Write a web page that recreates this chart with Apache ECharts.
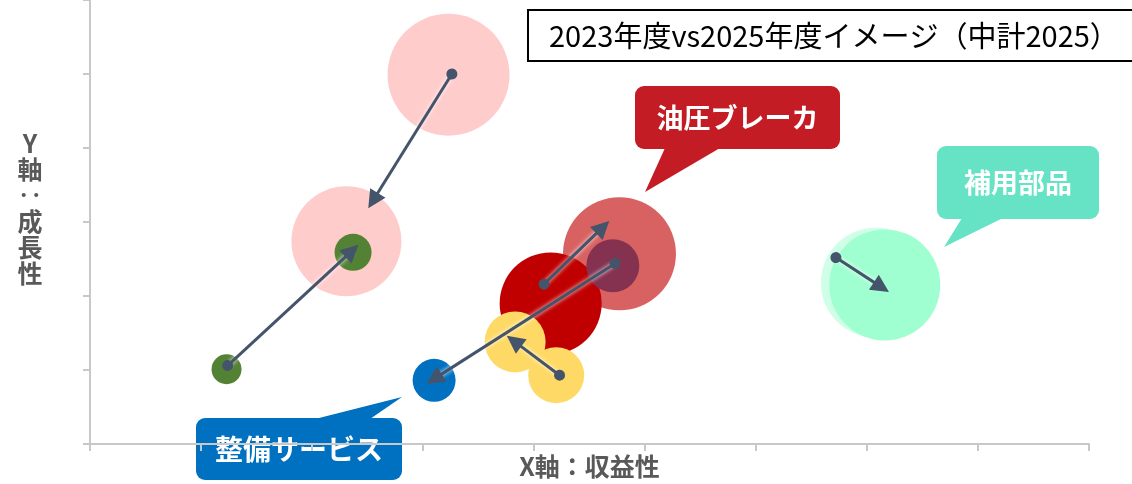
<!DOCTYPE html>
<html>
<head>
<meta charset="utf-8">
<script src="https://cdn.jsdelivr.net/npm/echarts@6.0.0/dist/echarts.min.js"></script>
<style>
  html, body { margin: 0; padding: 0; background: #fff; }
  #chart { width: 1132px; height: 484px; }
</style>
</head>
<body>
<div id="chart"></div>
<script>
// バブル（2023年度 / 2025年度）
const bubbleNames = ['P-2023', 'P-2025', 'G-2025', 'G-2023', '整備サービス2025', '油圧ブレーカ2023',
  '油圧ブレーカ2025', '整備サービス2023', 'Y-2025', 'Y-2023', '補用部品2023', '補用部品2025'];
const bubbleX = [3.23, 2.31, 2.37, 1.23, 3.10, 4.15, 4.77, 4.71, 3.83, 4.20, 7.08, 7.16];
const bubbleY = [4.99, 2.74, 2.59, 1.01, 0.86, 1.90, 2.57, 2.41, 1.38, 0.93, 2.18, 2.15];
const bubbleSize = [12.2, 11.0, 3.7, 3.0, 4.3, 10.2, 11.3, 5.3, 6.1, 5.6, 11.0, 11.1];

// 矢印（2023 → 2025）
const arrowFrom = [[3.26, 5.00], [1.24, 1.06], [4.09, 2.16], [4.73, 2.44], [4.23, 0.93], [6.72, 2.52]];
const arrowTo = [[2.55, 3.29], [2.36, 2.61], [4.62, 2.93], [3.10, 0.88], [3.82, 1.39], [7.13, 2.12]];

const titleText = '2023年度vs2025年度イメージ（中計2025）';
const xName = 'X軸：収益性';
const yName = 'Y\n軸\n‥\n成\n長\n性\n\u3000';

const bubbleColors = ['#ffcccc', '#ffcccc', '#548235', '#548235', '#0070c0', '#c00000',
  'rgba(192,0,0,0.62)', '#843250', '#ffd966', '#ffd966', 'rgba(160,255,208,0.5)', '#a0ffd0'];

const FONT = '"Noto Sans CJK JP", "Noto Sans", sans-serif';

const myChart = echarts.init(document.getElementById('chart'));

// 吹き出し
const callout = (box, tail, text, color, fontSize) => ({
    type: 'group',
    children: [
        { type: 'polygon', shape: { points: tail }, style: { fill: color } },
        {
            type: 'rect',
            shape: { x: box[0], y: box[1], width: box[2], height: box[3], r: 9 },
            style: { fill: color }
        },
        {
            type: 'text',
            x: box[0] + box[2] / 2,
            y: box[1] + box[3] / 2,
            style: {
                text: text,
                fill: '#fff',
                font: 'bold ' + fontSize + 'px ' + FONT,
                align: 'center',
                verticalAlign: 'middle'
            }
        }
    ]
});

const option = {
    animation: false,
    title: {
        text: titleText,
        left: 528,
        top: 10,
        borderColor: '#000',
        borderWidth: 2,
        padding: [10, 19, 10, 21],
        textStyle: {
            fontFamily: FONT,
            fontWeight: 'normal',
            fontSize: 29,
            lineHeight: 31,
            color: '#000'
        }
    },
    grid: {
        left: 90,
        right: 43,
        top: -4,
        bottom: 37
    },
    xAxis: {
        type: 'value',
        min: 0,
        max: 9,
        interval: 1,
        name: xName,
        nameLocation: 'middle',
        nameGap: 10,
        nameTextStyle: {
            fontFamily: FONT,
            fontWeight: 'bold',
            fontSize: 25,
            color: '#595959'
        },
        axisLine: { lineStyle: { color: '#c8c8c8', width: 2 } },
        axisTick: { show: true, length: 7, lineStyle: { color: '#c8c8c8', width: 2 } },
        axisLabel: { show: false },
        splitLine: { show: false }
    },
    yAxis: {
        type: 'value',
        min: 0,
        max: 6,
        interval: 1,
        name: yName,
        nameLocation: 'middle',
        nameRotate: 0,
        nameGap: 60,
        nameTextStyle: {
            fontFamily: FONT,
            fontWeight: 'bold',
            fontSize: 25,
            lineHeight: 26,
            color: '#595959',
            align: 'center'
        },
        axisLine: { show: true, lineStyle: { color: '#c8c8c8', width: 2 } },
        axisTick: { show: true, length: 7, lineStyle: { color: '#c8c8c8', width: 2 } },
        axisLabel: { show: false },
        splitLine: { show: false }
    },
    series: [
        {
            type: 'scatter',
            symbol: 'circle',
            symbolSize: (val) => val[2] * 10,
            data: bubbleNames.map((n, i) => ({
                name: n,
                value: [bubbleX[i], bubbleY[i], bubbleSize[i]],
                itemStyle: { color: bubbleColors[i], opacity: 1 }
            })),
            z: 2
        },
        {
            type: 'lines',
            coordinateSystem: 'cartesian2d',
            symbol: ['circle', 'triangle'],
            symbolSize: [11, 18],
            lineStyle: {
                color: '#44546a',
                width: 3,
                opacity: 1,
                curveness: 0,
                shadowColor: 'rgba(255,255,255,0.95)',
                shadowBlur: 4
            },
            data: arrowFrom.map((f, i) => ({ coords: [f, arrowTo[i]] })),
            z: 5
        }
    ],
    graphic: [
        callout([635, 86, 205, 63], [[665, 148], [720, 148], [645, 192]], '油圧ブレーカ', '#c41c24', 27),
        callout([937, 146, 162, 73], [[962, 218], [1003, 218], [944, 247]], '補用部品', '#66e3c4', 27),
        callout([196, 418, 206, 62], [[315, 419], [370, 419], [402, 397]], '整備サービス', '#0070c0', 28)
    ]
};

myChart.setOption(option);
window.addEventListener('resize', () => {
    myChart.resize();
});
</script>
</body>
</html>
